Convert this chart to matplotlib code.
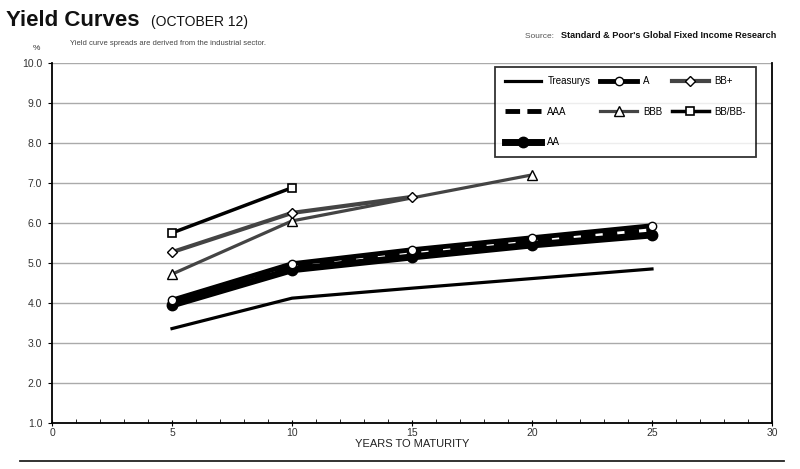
import matplotlib
matplotlib.use("Agg")
import matplotlib.pyplot as plt
from matplotlib.lines import Line2D

# ---- data ----
years_treas = [5, 10, 15, 20, 25]
treasurys = [3.36, 4.12, 4.37, 4.61, 4.85]
years_ig = [5, 10, 15, 20, 25]
aaa = [4.02, 4.9, 5.25, 5.55, 5.82]
aa = [3.95, 4.83, 5.15, 5.45, 5.7]
a_vals = [4.07, 4.98, 5.33, 5.63, 5.93]
years_bbb = [5, 10, 20]
bbb = [4.72, 6.05, 7.2]
years_bbp = [5, 10, 15]
bb_plus = [5.27, 6.25, 6.65]
years_bbm = [5, 10]
bb_minus = [5.75, 6.88]
y_ticks = [1.0, 2.0, 3.0, 4.0, 5.0, 6.0, 7.0, 8.0, 9.0, 10.0]
x_ticks = [0, 5, 10, 15, 20, 25, 30]

plt.rcParams['font.family'] = ['Liberation Sans', 'DejaVu Sans']

fig = plt.figure(figsize=(8.0, 4.69), dpi=100)
ax = fig.add_axes([0.065, 0.098, 0.9, 0.768])

ax.set_xlim(0, 30)
ax.set_ylim(1, 10)
ax.set_yticks(y_ticks)
ax.set_yticklabels([f"{v:.1f}" for v in y_ticks])
ax.set_xticks(x_ticks)
ax.set_xticks(range(0, 31), minor=True)
ax.grid(axis='y', color='#aaaaaa', lw=1.0, zorder=0)
ax.set_axisbelow(True)
ax.spines['top'].set_visible(False)
for s in ['left', 'bottom', 'right']:
    ax.spines[s].set_color('black')
    ax.spines[s].set_linewidth(1.3)
ax.tick_params(axis='y', direction='out', length=3, labelsize=7.5, labelcolor='#333333', pad=4)
ax.tick_params(axis='x', which='major', direction='inout', length=5, labelsize=7.5, labelcolor='#333333', pad=1)
ax.tick_params(axis='x', which='minor', direction='in', length=3)
ax.set_xlabel('YEARS TO MATURITY', fontsize=8, color='#222222', labelpad=1)

gray = '#444444'
ax.plot(years_treas, treasurys, color='black', lw=2.3, label='Treasurys', zorder=3)
ax.plot(years_ig, aaa, color='black', lw=3.5, ls=(0, (3, 1.5)), label='AAA', zorder=4)
ax.plot(years_ig, aa, color='black', lw=5, marker='o', ms=7.5, mfc='black', mec='black', label='AA', zorder=3)
ax.plot(years_ig, a_vals, color='black', lw=3.5, marker='o', ms=6, mfc='white', mec='black', mew=1, label='A', zorder=5)
ax.plot(years_bbb, bbb, color=gray, lw=2.3, marker='^', ms=7, mfc='white', mec='black', mew=1, label='BBB', zorder=4)
ax.plot(years_bbp, bb_plus, color=gray, lw=3.0, marker='D', ms=5, mfc='white', mec='black', mew=1, label='BB+', zorder=5)
ax.plot(years_bbm, bb_minus, color='black', lw=2.5, marker='s', ms=6, mfc='white', mec='black', mew=1.2, label='BB/BB-', zorder=5)

handles, labels = ax.get_legend_handles_labels()
order = ['Treasurys', 'AAA', 'AA', 'A', 'BBB', 'BB+', 'BB/BB-']
h = [handles[labels.index(o)] for o in order]
leg = ax.legend(h, order, ncol=3, loc='upper right', bbox_to_anchor=(0.98, 0.995),
                fontsize=7, frameon=True, fancybox=False, edgecolor='black',
                handlelength=3.8, labelspacing=2.1, columnspacing=1.0, borderpad=1.0,
                handletextpad=0.6, borderaxespad=0.2)
leg.get_frame().set_linewidth(1.3)

# titles and annotations
fig.text(0.008, 0.945, 'Yield Curves', fontsize=16, fontweight='bold', color='#111111', va='baseline')
fig.text(0.189, 0.945, '(OCTOBER 12)', fontsize=10, color='#111111', va='baseline')
fig.text(0.088, 0.905, 'Yield curve spreads are derived from the industrial sector.', fontsize=5.5, color='#444444', va='baseline')
fig.text(0.045, 0.893, '%', fontsize=6, color='#333333', ha='center', va='baseline')
fig.text(0.656, 0.918, 'Source: ', fontsize=6, color='#555555', va='baseline')
fig.text(0.970, 0.918, "Standard & Poor's Global Fixed Income Research", fontsize=6.6, fontweight='bold',
         color='#111111', ha='right', va='baseline')
fig.add_artist(Line2D([0.025, 0.98], [0.018, 0.018], color='#222222', lw=1.3, transform=fig.transFigure))

fig.savefig('out.png', dpi=100)
